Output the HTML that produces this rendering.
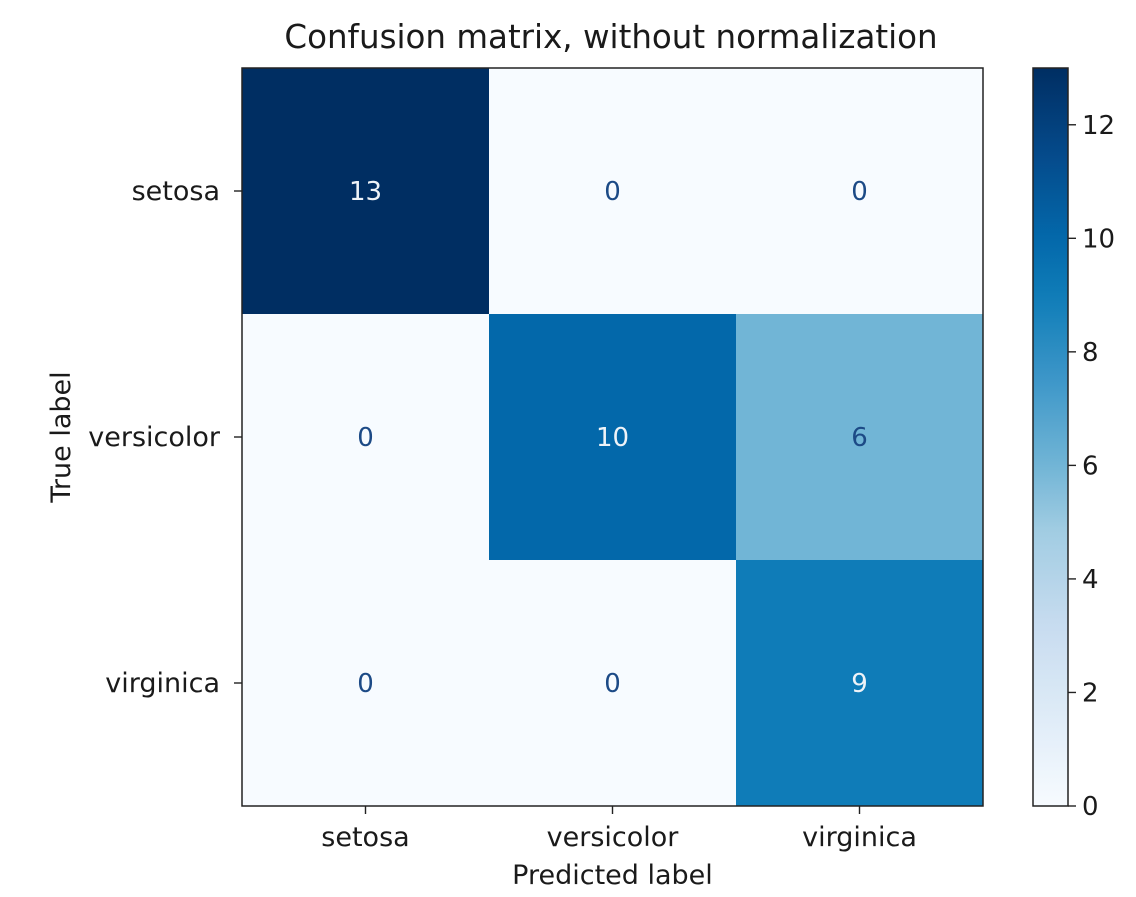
<!DOCTYPE html>
<html><head><meta charset="utf-8"><style>
body{margin:0;background:#fff;}
svg text{font-family:"DejaVu Sans","Liberation Sans",sans-serif;fill:#1a1a1a;}
</style></head><body>
<svg id="chart" width="1136" height="892" xmlns="http://www.w3.org/2000/svg">
<defs><linearGradient id="cbgrad" x1="0" y1="1" x2="0" y2="0"></linearGradient></defs>
<text x="611" y="48" font-size="32.5" text-anchor="middle">Confusion matrix, without normalization</text>
<g id="cells"></g>
<g id="axes"></g>
</svg>
<script>
const classes=["setosa","versicolor","virginica"];
const matrixRow0=[13,0,0];
const matrixRow1=[0,10,6];
const matrixRow2=[0,0,9];
const colorbarTicks=[0,2,4,6,8,10,12];
const matrix=[matrixRow0,matrixRow1,matrixRow2];
const NS="http://www.w3.org/2000/svg";
const L=242,T=68,R=983,B=806,CBL=1033,CBR=1068;
const n=classes.length,cw=(R-L)/n,ch=(B-T)/n;
const vmax=Math.max(...matrix.flat()),vmin=Math.min(...matrix.flat());
const stops=[[0,[247,251,255]],[0.125,[222,235,247]],[0.25,[198,219,239]],[0.375,[160,204,226]],[0.46,[114,181,214]],[0.58,[60,150,200]],[0.69,[15,125,184]],[0.77,[3,104,170]],[0.88,[5,75,140]],[1,[0,46,98]]];
function blues(t){t=Math.max(0,Math.min(1,t));let i=0;while(i<stops.length-2&&t>stops[i+1][0])i++;
const a=stops[i],b=stops[i+1],f=(t-a[0])/(b[0]-a[0]);
const c=a[1].map((v,k)=>Math.round(v+(b[1][k]-v)*f));return `rgb(${c})`;}
function mk(tag,attrs,parent){const e=document.createElementNS(NS,tag);for(const k in attrs)e.setAttribute(k,attrs[k]);parent.appendChild(e);return e;}
const cells=document.getElementById('cells'),axes=document.getElementById('axes');
const xPos=j=>L+cw*j, yPos=i=>T+ch*i;
for(let i=0;i<n;i++)for(let j=0;j<n;j++){
 const v=matrix[i][j],t=(v-vmin)/(vmax-vmin);
 const r=mk('rect',{x:xPos(j),y:yPos(i),width:cw+0.5,height:ch+0.5,fill:blues(t)},cells);
 
 
 const tx=mk('text',{x:xPos(j)+cw/2,y:yPos(i)+ch/2+9,'font-size':26,'text-anchor':'middle',style:'fill:'+(t>0.5?'#eef3f8':'#1c4a86')},cells);
 tx.textContent=v;
 
 
}
const frame=mk('rect',{x:L,y:T,width:R-L,height:B-T,fill:'none',stroke:'#222','stroke-width':1.5},axes);


classes.forEach((c,k)=>{
 mk('line',{x1:xPos(k)+cw/2,x2:xPos(k)+cw/2,y1:B,y2:B+8,stroke:'#222','stroke-width':1.4},axes);
 const xt=mk('text',{x:xPos(k)+cw/2,y:B+40,'font-size':27,'text-anchor':'middle'},axes);xt.textContent=c;
 
 
 mk('line',{x1:L-8,x2:L,y1:yPos(k)+ch/2,y2:yPos(k)+ch/2,stroke:'#222','stroke-width':1.4},axes);
 const yt=mk('text',{x:L-22,y:yPos(k)+ch/2+9,'font-size':27,'text-anchor':'end'},axes);yt.textContent=c;
 
 
});
const xl=mk('text',{x:(L+R)/2,y:884,'font-size':27,'text-anchor':'middle'},axes);xl.textContent='Predicted label';


const yl=mk('text',{x:0,y:0,'font-size':27,'text-anchor':'middle',transform:`translate(70,${(T+B)/2}) rotate(-90)`},axes);yl.textContent='True label';


const g=document.getElementById('cbgrad');
for(let k=0;k<=40;k++)mk('stop',{offset:k/40,'stop-color':blues(k/40)},g);
const cb=mk('rect',{x:CBL,y:T,width:CBR-CBL,height:B-T,fill:'url(#cbgrad)',stroke:'#222','stroke-width':1.5},axes);


const cy=v=>B-(v-vmin)/(vmax-vmin)*(B-T);
colorbarTicks.forEach(v=>{
 mk('line',{x1:CBR,x2:CBR+8,y1:cy(v),y2:cy(v),stroke:'#222','stroke-width':1.4},axes);
 const t=mk('text',{x:CBR+14,y:cy(v)+9,'font-size':26},axes);t.textContent=v;
 
 
});
</script>
</body></html>
